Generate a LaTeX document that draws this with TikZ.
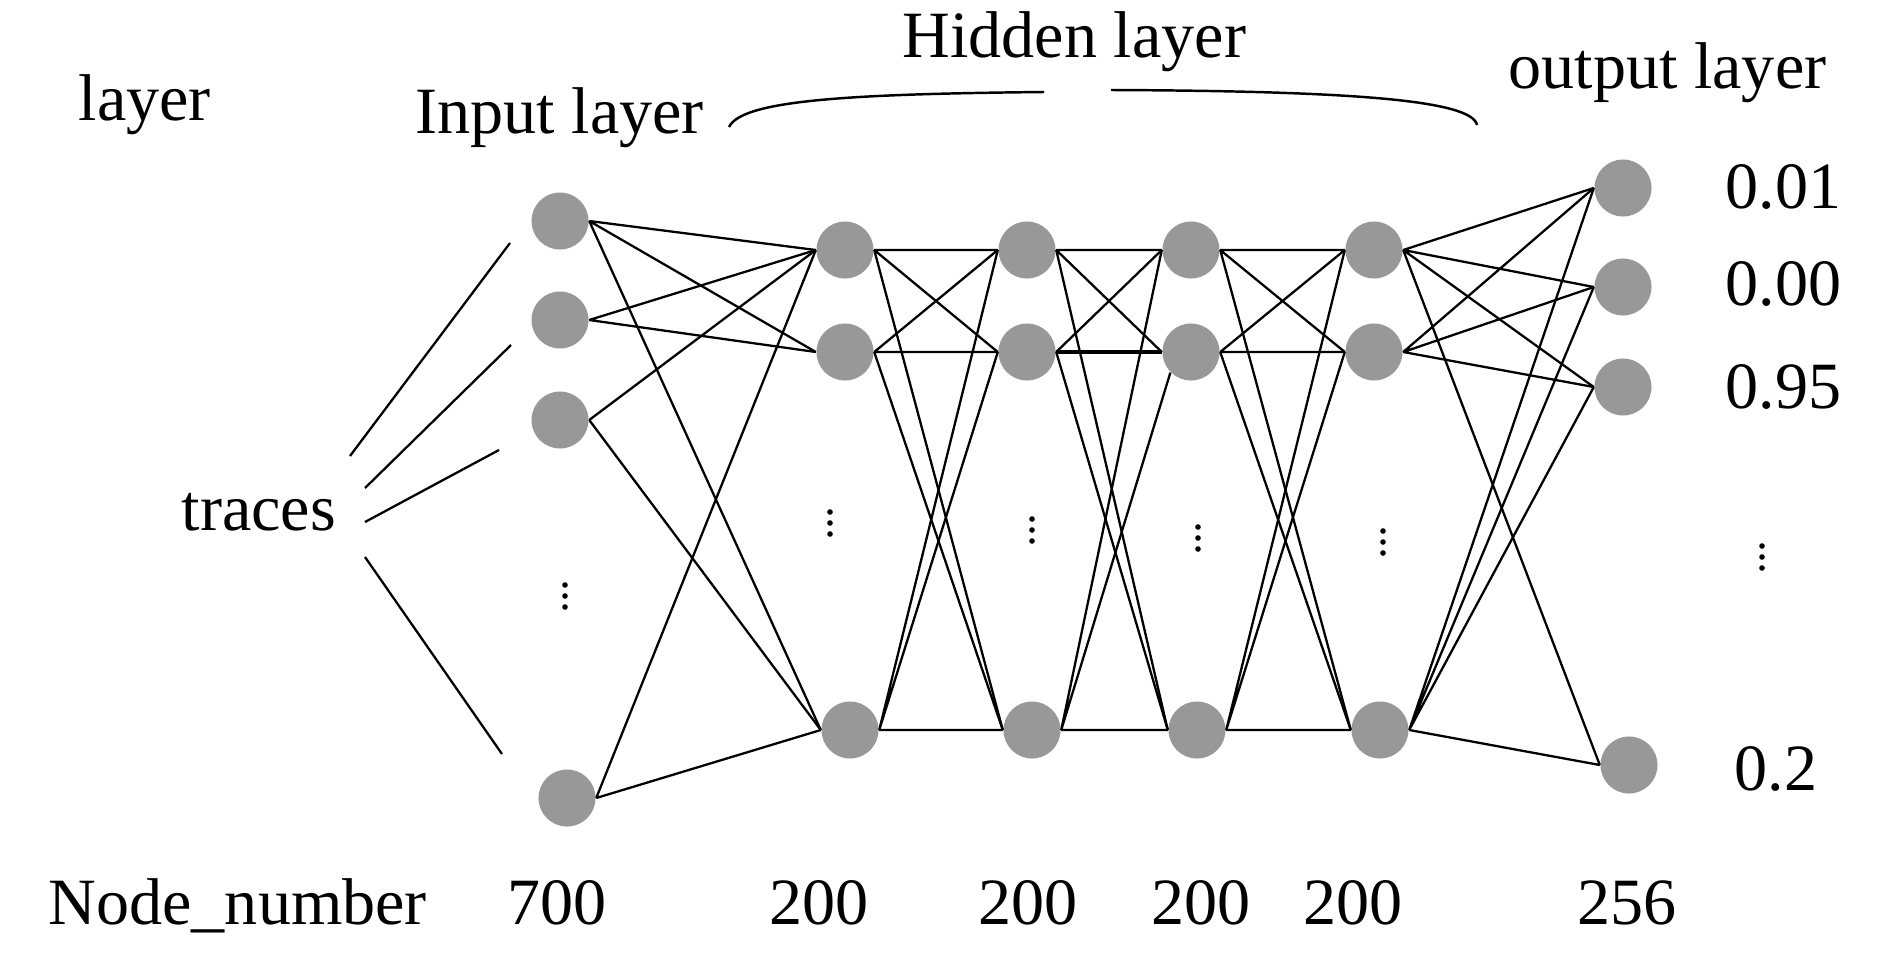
\documentclass[tikz,border=0pt]{standalone}
\usepackage{fontspec}
\setmainfont{Liberation Serif}
\usetikzlibrary{positioning}
\definecolor{nodegray}{RGB}{152,152,152}

\begin{document}
\begin{tikzpicture}[x=0.01cm,y=-0.01cm, ele/.style={fill=nodegray,circle,minimum size=0.57cm,inner sep=0pt},
                    lab/.style={inner sep=0pt,anchor=base west,font=\fontsize{18.8}{23}\selectfont},
                    num/.style={inner sep=0pt,anchor=base,font=\fontsize{18.8}{23}\selectfont},
                    con/.style={line width=0.65pt}]
                      \useasboundingbox (0,0) rectangle (1890,954);

                      % neurons
                      \node[ele] (in1) at (560,221) {};
                      \node[ele] (in2) at (560,320) {};
                      \node[ele] (in3) at (560,420) {};
                      \node[ele] (in4) at (567,798) {};

                      \node[ele] (h1a) at (845,250) {};
                      \node[ele] (h1b) at (845,352) {};
                      \node[ele] (h1c) at (850,730) {};
                      \node[ele] (h2a) at (1027,250) {};
                      \node[ele] (h2b) at (1027,352) {};
                      \node[ele] (h2c) at (1032,730) {};
                      \node[ele] (h3a) at (1191,250) {};
                      \node[ele] (h3b) at (1191,352) {};
                      \node[ele] (h3c) at (1197,730) {};
                      \node[ele] (h4a) at (1374,250) {};
                      \node[ele] (h4b) at (1374,352) {};
                      \node[ele] (h4c) at (1380,730) {};

                      \node[ele] (o1) at (1623,188) {};
                      \node[ele] (o2) at (1623,287) {};
                      \node[ele] (o3) at (1623,387) {};
                      \node[ele] (o4) at (1629,765) {};

                      % vertical dots
                      \foreach \x/\y in {565/596,830/523,1032/530,1198/538,1383/542,1762/557}
                        \foreach \d in {-11,0,11}
                          \fill (\x,\y+\d) circle (0.028cm);

                      % input -> hidden 1
                      \draw[con] (in1.east) -- (h1a.west) (in1.east) -- (h1b.west) (in1.east) -- (h1c.west);
                      \draw[con] (in2.east) -- (h1a.west) (in2.east) -- (h1b.west);
                      \draw[con] (in3.east) -- (h1a.west) (in3.east) -- (h1c.west);
                      \draw[con] (in4.east) -- (h1a.west) (in4.east) -- (h1c.west);

                      % hidden -> hidden
                      \draw[con] (h1a.east) -- (h2a.west) (h1a.east) -- (h2b.west) (h1a.east) -- (h2c.west);
                      \draw[con] (h1b.east) -- (h2a.west) (h1b.east) -- (h2b.west) (h1b.east) -- (h2c.west);
                      \draw[con] (h1c.east) -- (h2a.west) (h1c.east) -- (h2b.west) (h1c.east) -- (h2c.west);

                      \draw[con] (h2a.east) -- (h3a.west) (h2a.east) -- (h3b.west) (h2a.east) -- (h3c.west);
                      \draw[con] (h2b.east) -- (h3a.west) (h2b.east) -- (h3c.west);
                      \draw[line width=1.3pt] (h2b.east) -- (h3b.west);
                      \draw[con] (h2c.east) -- (h3a.west) (h2c.east) -- (h3b.south west) (h2c.east) -- (h3c.west);

                      \draw[con] (h3a.east) -- (h4a.west) (h3a.east) -- (h4b.west) (h3a.east) -- (h4c.west);
                      \draw[con] (h3b.east) -- (h4a.west) (h3b.east) -- (h4b.west) (h3b.east) -- (h4c.west);
                      \draw[con] (h3c.east) -- (h4a.west) (h3c.east) -- (h4b.west) (h3c.east) -- (h4c.west);

                      % hidden 4 -> output
                      \draw[con] (h4a.east) -- (o1.west) (h4a.east) -- (o2.west) (h4a.east) -- (o3.west) (h4a.east) -- (o4.west);
                      \draw[con] (h4b.east) -- (o1.west) (h4b.east) -- (o2.west) (h4b.east) -- (o3.west);
                      \draw[con] (h4c.east) -- (o1.west) (h4c.east) -- (o2.west) (h4c.east) -- (o3.west) (h4c.east) -- (o4.west);

                      % traces
                      \coordinate (t1) at (350,456); \coordinate (u1) at (510,243);
                      \coordinate (t2) at (365,488); \coordinate (u2) at (511,345);
                      \coordinate (t3) at (365,522); \coordinate (u3) at (499,450);
                      \coordinate (t4) at (365,557); \coordinate (u4) at (502,754);
                      \draw[con] (t1) -- (u1) (t2) -- (u2) (t3) -- (u3) (t4) -- (u4);

                      % brace over the hidden layers
                      \draw[line width=0.7pt] (729,127) .. controls (742,100) and (850,94) .. (1044,92);
                      \draw[line width=0.7pt] (1111,90) .. controls (1350,91) and (1472,100) .. (1477,125);

                      \node[lab] (lay) at (78,120) {layer};
                      \node[lab] (inp) at (415,133) {Input layer};
                      \node[lab] (hid) at (902,57) {Hidden layer};
                      \node[lab] (outp) at (1508,88) {output layer};
                      \node[lab] (tr) at (181,530) {traces};
                      \node[lab] (v1) at (1725,208) {0.01};
                      \node[lab] (v2) at (1725,305) {0.00};
                      \node[lab] (v3) at (1725,408) {0.95};
                      \node[lab] (v4) at (1734,790) {0.2};

                      \node[lab] (nn) at (48,924) {Node\_number};
                      \node[num] (n0) at (557,924) {700};
                      \node[num] (n1) at (819,924) {200};
                      \node[num] (n2) at (1028,924) {200};
                      \node[num] (n3) at (1201,924) {200};
                      \node[num] (n4) at (1353,924) {200};
                      \node[num] (n5) at (1627,924) {256};
                    \end{tikzpicture}
\end{document}
